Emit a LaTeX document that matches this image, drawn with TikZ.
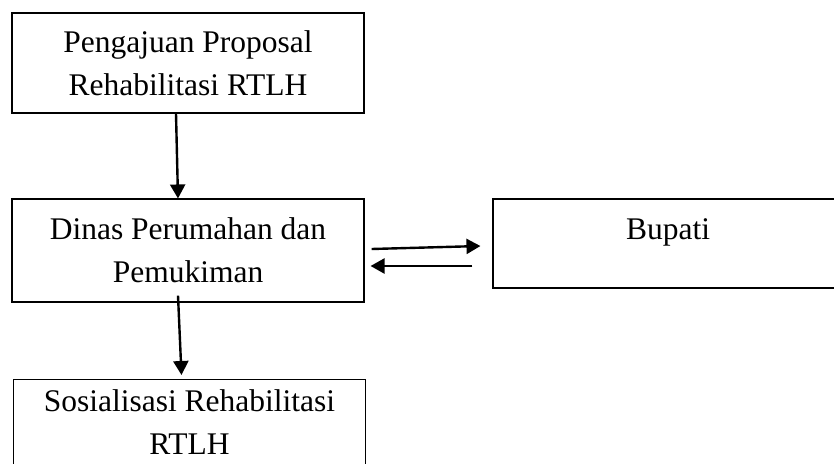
\documentclass[tikz,border=0pt]{standalone}
\usepackage{fontspec}
\setmainfont{Liberation Serif}
\usetikzlibrary{arrows.meta}
\tikzstyle{kotak} = [draw, line width=1.1pt, minimum width=352pt, minimum height=100pt, align=center, inner xsep=0pt]
\tikzstyle{panah} = [line width=2.4pt, -{Triangle[length=14pt,width=15pt]}]

\begin{document}
\begin{tikzpicture}[x=1pt, y=1pt, font=\fontsize{31.5}{43}\selectfont]
  \useasboundingbox (0,0) rectangle (834,-463);

  % Boxes on the left
  \node[kotak] (pengajuan) at (188,-63) {Pengajuan Proposal\\Rehabilitasi RTLH};
  \node[kotak, minimum height=103pt] (dinas) at (188,-250.5) {Dinas Perumahan dan\\Pemukiman};
  \node[kotak, anchor=north, minimum height=0pt, inner ysep=10.5pt, text depth=100pt] (sosialisasi) at (189.5,-379) {Sosialisasi Rehabilitasi\\RTLH};

  % Box on the right
  \node[kotak, minimum width=350pt, minimum height=0pt, inner ysep=19pt, text height=21.5pt, text depth=29.5pt] (bupati) at (668,-243.5) {Bupati};

  % Arrows down
  \draw[panah] ([xshift=-12pt]pengajuan.south) -- ([xshift=-10pt]dinas.north);
  \draw[panah] ([xshift=-10pt,yshift=7pt]dinas.south) -- ([xshift=-8pt,yshift=4pt]sosialisasi.north);

  % Arrows to and from Bupati
  \draw[panah] ([xshift=7pt,yshift=1.5pt]dinas.east) -- ([xshift=-12pt,yshift=-2.5pt]bupati.west);
  \draw[panah] ([xshift=-20pt,yshift=-22.5pt]bupati.west) -- ([xshift=6pt,yshift=-15.5pt]dinas.east);
\end{tikzpicture}
\end{document}
